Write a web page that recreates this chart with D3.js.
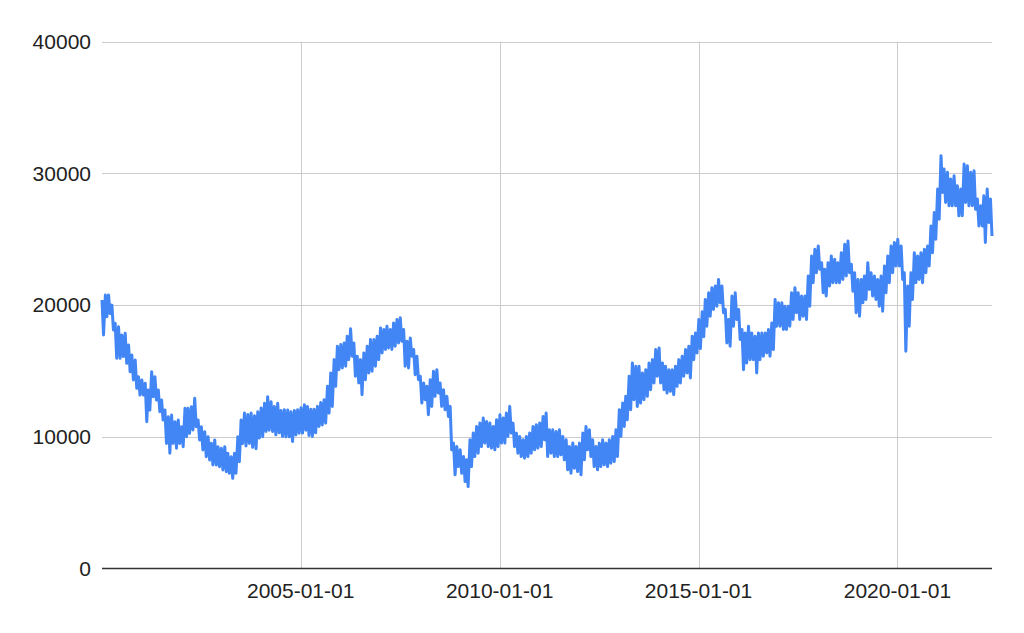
<!DOCTYPE html>
<html><head><meta charset="utf-8">
<script src="https://cdn.jsdelivr.net/npm/d3@7"></script>
<style>body{margin:0;background:#fff}</style>
</head><body>
<svg id="c" width="1024" height="633"></svg>
<script>
// Monthly band (upper and lower edge of the daily series), starting 2000-01
const startMonth = "2000-01";
const monthlyHigh = [
20390,20770,20770,20000,18620,18360,17730,17860,16970,16210,15830,14560,
14320,14060,13550,14940,14560,13550,12790,12030,11530,11650,11150,11270,
10770,12160,12160,12290,12920,11280,10770,10390,10010,9510,9760,9250,
9130,9250,8750,8490,8750,10010,11270,11800,11700,11800,11600,11900,
12190,12540,13050,12670,12300,12540,12000,12060,12040,11900,12000,12060,
12200,12440,12300,12100,12100,12310,12600,12820,13830,14850,15860,16880,
17000,17130,17640,18200,17130,16120,15860,16370,16880,17390,17390,17640,
18270,18150,18400,18150,18650,18910,19040,18150,17260,17510,16630,16120,
14590,14090,13830,14340,14980,15100,14090,13580,13070,12310,9520,9260,
9010,8500,8250,9770,10280,10790,11040,11420,11170,11040,10790,11290,
11670,11420,11800,12310,11040,10280,10030,9770,10030,10280,10790,10920,
11040,11550,11800,10530,10530,10400,10530,10030,9770,9260,9520,9260,
9520,10280,10790,10530,9770,9260,9520,9770,9520,9770,10030,10530,
12060,12560,13070,14590,15610,15360,15360,14850,15100,15610,15860,16630,
16750,15610,15360,15100,15100,15360,15860,16120,16620,16880,17640,17890,
18910,19500,20430,20940,21320,21450,21950,21450,19670,18910,20690,20940,
19670,18150,17890,18400,17890,17640,17890,17890,17890,18150,18650,20430,
20180,20180,19920,19920,20940,21320,20940,20690,20690,22210,23730,24240,
24490,23220,22720,23220,23730,23480,23220,23980,24620,24870,23100,22460,
21950,21950,22210,23220,22460,22210,21950,22210,22970,23730,24490,24750,
25000,24490,22460,21450,22460,23980,23730,23980,24240,24490,26010,27030,
28810,31340,30330,30080,29570,29820,29060,28810,30710,30580,30080,30200,
28050,27540,28300,28810,28050
];
const monthlyLow = [
17730,19120,19370,18110,15960,15960,16090,15580,14940,14320,13680,13170,
13170,11150,12030,13040,12790,11910,11270,9500,8750,9500,9130,9500,
9250,10010,10260,10520,10770,9760,9000,8490,8240,7860,7860,7730,
7480,7350,7230,6850,7230,8110,9500,9300,9500,9200,9100,9900,
10010,10400,10500,10400,10150,10300,10030,10000,10000,9640,10140,10270,
10280,10500,10100,10030,10300,10790,10900,11040,11800,12310,13830,15100,
15230,15360,15860,16120,14600,14090,13200,14340,14850,14980,15360,15860,
16370,16630,16750,16630,16880,17130,17260,15360,15230,16120,14720,14340,
12560,12820,11680,12310,13070,13320,12310,12060,11550,9010,7110,7740,
7230,6600,6220,7740,8500,8760,9260,9520,9260,9140,9010,9260,
9520,9520,10030,10280,9260,8760,8500,8380,8500,8760,9010,9140,
9260,9770,8500,8760,8500,8500,8630,8250,7490,7230,7610,7360,
7110,8250,9010,8500,7740,7490,7740,7870,7740,8000,8120,8500,
10030,10790,11290,12060,12820,12310,12560,12820,13070,13580,14090,14600,
14090,13580,13320,13450,13200,13830,14090,14600,14850,14470,15860,16370,
16700,17600,18400,19160,19670,19920,20180,19420,17130,16880,18400,18910,
17390,15100,15610,15860,15860,14850,15860,16120,16370,16120,16620,18400,
18400,18150,18150,18400,18910,19420,18910,19160,18910,19920,21700,22460,
22720,20940,20690,21450,21700,21700,21700,21950,22210,22460,21060,19420,
19160,20180,20430,21190,20690,20430,19920,19540,20940,21700,22460,22970,
22970,21950,16500,18400,20430,21700,21950,21700,22460,22970,23980,25000,
26520,28550,27790,27540,27540,27540,26780,26780,27790,27540,27540,27280,
26010,26010,24750,26270,25250
];
const yTicks = [0, 10000, 20000, 30000, 40000];
const xTickDates = ["2005-01-01", "2010-01-01", "2015-01-01", "2020-01-01"];

const parseMonth = d3.utcParse("%Y-%m");
const parseDay = d3.utcParse("%Y-%m-%d");
const m0 = parseMonth(startMonth);
const data = [];
monthlyHigh.forEach((h, i) => {
  const m = d3.utcMonth.offset(m0, i);
  data.push({date: d3.utcDay.offset(m, 3), v: h});
  data.push({date: d3.utcDay.offset(m, 17), v: monthlyLow[i]});
});

const L = 102, R = 992, T = 41.7, B = 568.5;
const svg = d3.select("#c");
const x = d3.scaleUtc().domain(d3.extent(data, d => d.date)).range([L, R]);
const y = d3.scaleLinear().domain([0, 40000]).range([B, T]);
const font = "'Liberation Sans', Arial, sans-serif";

// horizontal gridlines
svg.append("g").selectAll("line").data(yTicks.filter(t => t > 0)).join("line")
  .attr("x1", L).attr("x2", R)
  .attr("y1", d => Math.round(y(d)) + 0.5).attr("y2", d => Math.round(y(d)) + 0.5)
  .attr("stroke", "#cccccc").attr("stroke-width", 1);

// vertical gridlines
const xt = xTickDates.map(parseDay);
svg.append("g").selectAll("line").data(xt).join("line")
  .attr("x1", d => Math.round(x(d)) + 0.5).attr("x2", d => Math.round(x(d)) + 0.5)
  .attr("y1", T).attr("y2", B)
  .attr("stroke", "#cccccc").attr("stroke-width", 1);

// y labels
svg.append("g").selectAll("text").data(yTicks).join("text")
  .attr("x", 91).attr("y", d => y(d)).attr("dy", "0.35em")
  .attr("text-anchor", "end")
  .attr("font-family", font).attr("font-size", 21).attr("fill", "#222")
  .text(d => d);

// x labels
svg.append("g").selectAll("text").data(xt).join("text")
  .attr("x", d => x(d)).attr("y", 598)
  .attr("text-anchor", "middle")
  .attr("font-family", font).attr("font-size", 21).attr("fill", "#222")
  .text((d, i) => xTickDates[i]);

// series line
svg.append("path").datum(data)
  .attr("fill", "none").attr("stroke", "#4285f4").attr("stroke-width", 3)
  .attr("stroke-linejoin", "round")
  .attr("d", d3.line().x(d => x(d.date)).y(d => y(d.v)));

// baseline
svg.append("line").attr("x1", L).attr("x2", R)
  .attr("y1", y(0)).attr("y2", y(0))
  .attr("stroke", "#333").attr("stroke-width", 1.6);
</script>
</body></html>
